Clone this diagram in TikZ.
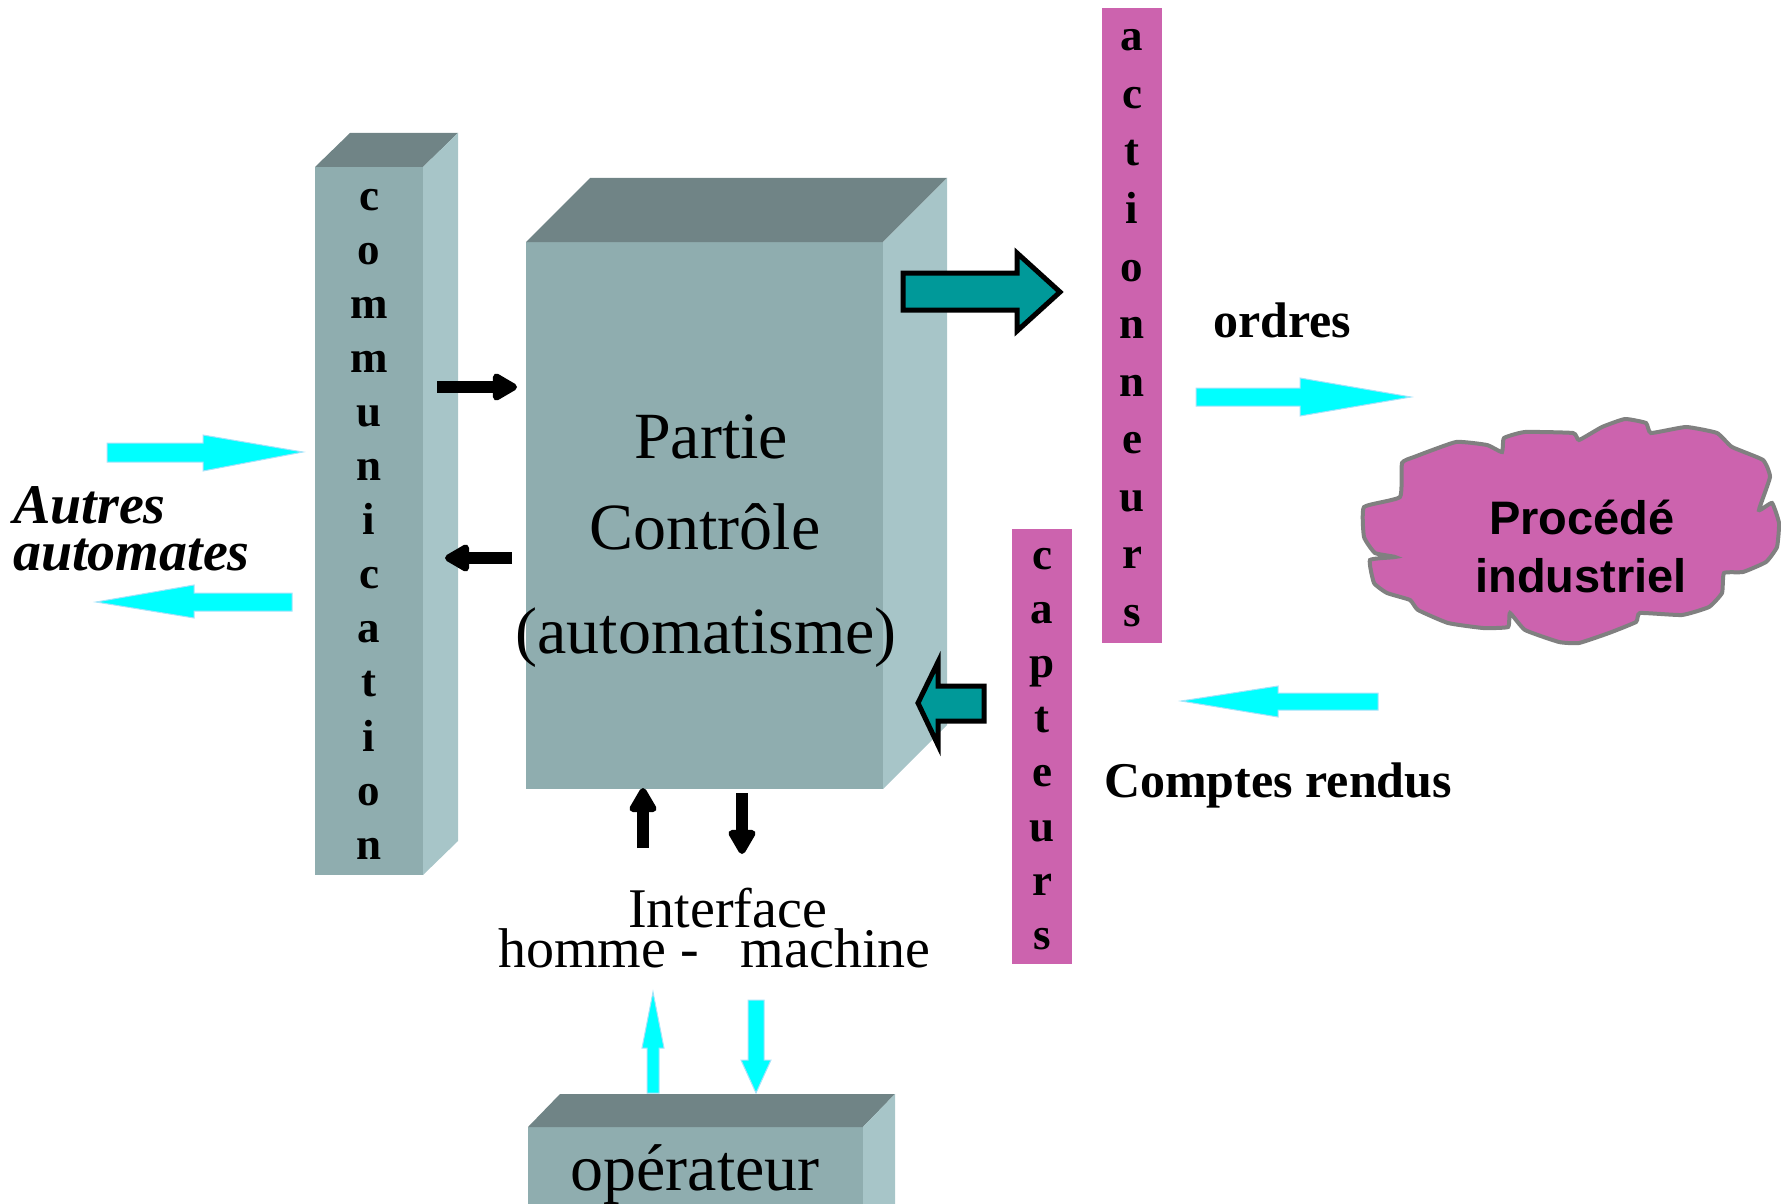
\documentclass[tikz,border=0pt]{standalone}
\usepackage{fontspec}
\setmainfont{Liberation Serif}
\newfontfamily\arialfont{Liberation Sans}
\usetikzlibrary{arrows.meta}

\definecolor{frontgray}{RGB}{143,173,175}
\definecolor{topgray}{RGB}{112,132,134}
\definecolor{sidegray}{RGB}{167,197,200}
\definecolor{magentabar}{RGB}{204,99,174}
\definecolor{tealfill}{RGB}{0,153,153}
\definecolor{cyanfill}{RGB}{0,255,255}
\definecolor{cloudline}{RGB}{128,128,128}

\begin{document}
\begin{tikzpicture}[x = 1pt, y = -1pt,
    blackarrow/.style = {line width = 12pt, -{Triangle[length = 28pt, width = 30pt, round]}},
    cyanarrow/.style = {fill = cyanfill, draw = cyan!35, line width = 1pt},
    tealarrow/.style = {fill = tealfill, draw = black, line width = 5pt, miter limit = 10},
    vletter/.style = {anchor = base, inner sep = 0pt, font = \fontsize{45}{45}\selectfont\bfseries},
    bigtext/.style = {anchor = base, inner sep = 0pt, font = \fontsize{66}{66}\selectfont},
    midtext/.style = {anchor = base west, inner sep = 0pt, font = \fontsize{56}{56}\selectfont},
    boldtext/.style = {anchor = base west, inner sep = 0pt, font = \fontsize{50}{50}\selectfont\bfseries}]
    \useasboundingbox (0, 0) rectangle (1781, 1204);

    % communication
    \fill [frontgray] (315, 167) rectangle (423, 875);
    \fill [topgray] (315, 167)  --  (350, 133)  --  (458, 133)  --  (423, 167) -- cycle;
    \fill [sidegray] (423, 167)  --  (458, 133)  --  (458, 841)  --  (423, 875) -- cycle;
    \foreach \l [count = \i from 0] in {c,o,m,m,u,n,i,c,a,t,i,o,n}
        \node (com\i) [vletter] at (369, {210 + 54.1*\i}) {\l};

    % partie controle
    \fill [frontgray] (526, 242) rectangle (883, 789);
    \fill [topgray] (526, 242)  --  (590, 178)  --  (947, 178)  --  (883, 242) -- cycle;
    \fill [sidegray] (883, 242)  --  (947, 178)  --  (947, 725)  --  (883, 789) -- cycle;
    \node (partie) [bigtext] at (711, 458) {Partie};
    \node (controle) [bigtext] at (705, 549) {Contrôle};
    \node (automatisme) [bigtext] at (706, 653) {(automatisme)};

    % operateur
    \fill [frontgray] (528, 1127) rectangle (863, 1215);
    \fill [topgray] (528, 1127)  --  (560, 1094)  --  (895, 1094)  --  (863, 1127) -- cycle;
    \fill [sidegray] (863, 1127)  --  (895, 1094)  --  (895, 1215)  --  (863, 1215) -- cycle;
    \node (operateur) [bigtext] at (695, 1190) {opérateur};

    % actionneurs, capteurs
    \fill [magentabar] (1102, 8) rectangle (1162, 643);
    \foreach \l [count = \i from 0] in {a,c,t,i,o,n,n,e,u,r,s}
        \node (act\i) [vletter] at (1132, {51 + 57.5*\i}) {\l};
    \fill [magentabar] (1012, 529) rectangle (1072, 964);
    \foreach \l [count = \i from 0] in {c,a,p,t,e,u,r,s}
        \node (cap\i) [vletter] at (1042, {569 + 54.4*\i}) {\l};

    % procede
    \draw [cloudline, line width = 4pt, fill = magentabar] plot [smooth cycle, tension = 0.25] coordinates {
        (1364, 507) (1400, 497) (1402, 463) (1414, 457) (1456, 442) (1487, 445) (1502, 452)
        (1504, 438) (1525, 432) (1573, 433) (1579, 440) (1602, 427) (1625, 419) (1646, 423)
        (1651, 433) (1686, 427) (1717, 433) (1732, 447) (1763, 460) (1770, 477) (1759, 510)
        (1772, 503) (1779, 523) (1777, 547) (1766, 562) (1743, 572) (1724, 573) (1722, 593)
        (1709, 607) (1682, 615) (1640, 613) (1636, 622) (1609, 633) (1579, 643) (1559, 642)
        (1525, 630) (1510, 613) (1508, 627) (1483, 628) (1448, 623) (1418, 610) (1410, 600)
        (1387, 593) (1374, 583) (1370, 560) (1395, 557) (1375, 553) (1364, 537)};
    \node (procede) [anchor = base, inner sep = 0pt, font = \arialfont\fontsize{47}{47}\selectfont\bfseries] at (1582, 534) {Procédé};
    \node (industriel) [anchor = base, inner sep = 0pt, font = \arialfont\fontsize{47}{47}\selectfont\bfseries] at (1581, 592) {industriel};

    % textes
    \node (autres) [anchor = base west, inner sep = 0pt, font = \fontsize{56}{56}\selectfont\bfseries\itshape] at (13, 523) {Autres};
    \node (automates) [anchor = base west, inner sep = 0pt, font = \fontsize{56}{56}\selectfont\bfseries\itshape] at (13, 570) {automates};
    \node (ordres) [boldtext] at (1213, 337) {ordres};
    \node (comptes) [boldtext] at (1104, 797) {Comptes rendus};
    \node (interface) [midtext] at (628, 927) {Interface};
    \node (homme) [midtext] at (498, 967) {homme -~~~machine};

    % fleches noires
    \draw [blackarrow] (437, 387)  --  (517, 387);
    \draw [blackarrow] (512, 558)  --  (445, 558);
    \draw [blackarrow] (643, 848)  --  (643, 788);
    \draw [blackarrow] (742, 793)  --  (742, 854);

    % fleches vertes
    \draw [tealarrow] (903, 273)  --  (1017, 273)  --  (1017, 253)  --  (1060, 292)  --  (1017, 331)  --  (1017, 310)  --  (903, 310) -- cycle;
    \draw [tealarrow] (984, 686)  --  (938, 686)  --  (938, 662)  --  (918, 703)  --  (938, 745)  --  (938, 721)  --  (984, 721) -- cycle;

    % fleches cyan
    \draw [cyanarrow] (107, 443)  --  (203, 443)  --  (203, 435)  --  (303, 452)  --  (203, 471)  --  (203, 462)  --  (107, 462) -- cycle;
    \draw [cyanarrow] (292, 593)  --  (194, 593)  --  (194, 585)  --  (96, 602)  --  (194, 618)  --  (194, 611)  --  (292, 611) -- cycle;
    \draw [cyanarrow] (1196, 388)  --  (1300, 388)  --  (1300, 378)  --  (1411, 397)  --  (1300, 416)  --  (1300, 406)  --  (1196, 406) -- cycle;
    \draw [cyanarrow] (1378, 693)  --  (1278, 693)  --  (1278, 686)  --  (1181, 701)  --  (1278, 717)  --  (1278, 710)  --  (1378, 710) -- cycle;
    \draw [cyanarrow] (647, 1093)  --  (647, 1048)  --  (642, 1048)  --  (653, 992)  --  (664, 1048)  --  (659, 1048)  --  (659, 1093) -- cycle;
    \draw [cyanarrow] (748, 1000)  --  (748, 1060)  --  (741, 1060)  --  (756, 1093)  --  (771, 1060)  --  (764, 1060)  --  (764, 1000) -- cycle;

\end{tikzpicture}
\end{document}
